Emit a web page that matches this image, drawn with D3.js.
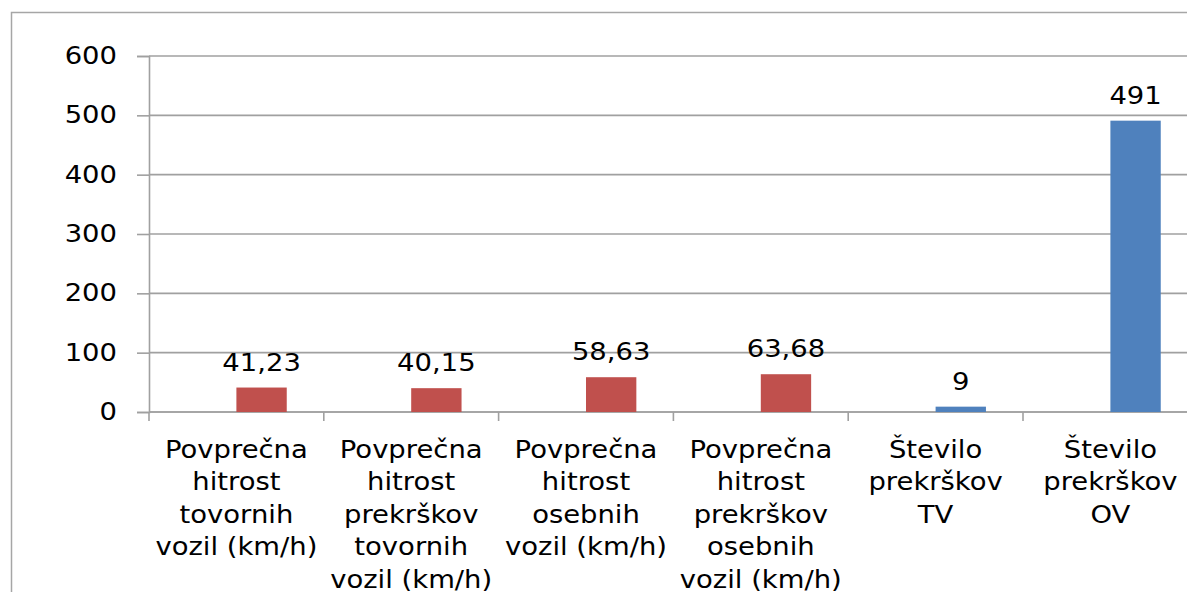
<!DOCTYPE html>
<html lang="sl">
<head>
    <meta charset="UTF-8">
    <title>Hitrosti in prekrški</title>
    <style>
        body {
            margin: 0;
            padding: 0;
            background: #fff;
            overflow: hidden;
        }
        svg text {
            font-family: 'DejaVu Sans', Verdana, sans-serif;
            fill: #000;
        }
    </style>
</head>
<body>
    <div id="chart"></div>

    <script src="https://d3js.org/d3.v7.min.js"></script>
    <script>
        const categories = [
            ["Povprečna", "hitrost", "tovornih", "vozil (km/h)"],
            ["Povprečna", "hitrost", "prekrškov", "tovornih", "vozil (km/h)"],
            ["Povprečna", "hitrost", "osebnih", "vozil (km/h)"],
            ["Povprečna", "hitrost", "prekrškov", "osebnih", "vozil (km/h)"],
            ["Število", "prekrškov", "TV"],
            ["Število", "prekrškov", "OV"]
        ];
        const values = [41.23, 40.15, 58.63, 63.68, 9, 491];
        const valueLabels = ["41,23", "40,15", "58,63", "63,68", "9", "491"];
        const series = ["hitrost", "hitrost", "hitrost", "hitrost", "prekrski", "prekrski"];
        const yTicks = [0, 100, 200, 300, 400, 500, 600];

        const width = 1187;
        const height = 592;
        const margin = { top: 56, left: 149, bottom: 180 };
        const bandWidth = 174.8;
        const plotW = bandWidth * categories.length;
        const plotH = height - margin.top - margin.bottom;
        const sx = 1.12; // fonts in the picture are a bit wider than DejaVu

        const svg = d3.select("#chart")
            .append("svg")
            .attr("width", width)
            .attr("height", height);

        // outer frame of the chart
        svg.append("rect")
            .attr("x", 11.5)
            .attr("y", 12.5)
            .attr("width", width + 20)
            .attr("height", height + 20)
            .attr("fill", "none")
            .attr("stroke", "#a6a6a6")
            .attr("stroke-width", 1.5);

        const g = svg.append("g")
            .attr("transform", `translate(${margin.left},${margin.top})`);

        const x = d3.scaleBand()
            .domain(d3.range(categories.length))
            .range([0, plotW])
            .padding(0);

        const y = d3.scaleLinear()
            .domain([0, 600])
            .range([plotH, 0]);

        const color = d3.scaleOrdinal()
            .domain(["hitrost", "prekrski"])
            .range(["#c0504d", "#4f81bd"]);

        // gridlines
        g.selectAll(".grid")
            .data(yTicks)
            .enter().append("line")
            .attr("x1", 0)
            .attr("x2", plotW)
            .attr("y1", d => y(d))
            .attr("y2", d => y(d))
            .attr("stroke", "#a0a0a0")
            .attr("stroke-width", 1.6);

        // y axis
        const yAxis = g.append("g")
            .call(d3.axisLeft(y).tickValues(yTicks).tickSize(12).tickPadding(20));
        yAxis.select(".domain").attr("stroke", "#a0a0a0").attr("stroke-width", 1.6);
        yAxis.selectAll(".tick line").attr("stroke", "#a0a0a0").attr("stroke-width", 1.6);
        yAxis.selectAll(".tick text")
            .style("font-size", "24.5px")
            .attr("x", -32 / sx)
            .attr("dy", "0.3em")
            .attr("transform", `scale(${sx},1)`);

        // x axis with ticks at category borders
        const xAxis = g.append("g")
            .attr("transform", `translate(0,${plotH})`);
        xAxis.append("line")
            .attr("x1", 0)
            .attr("x2", plotW)
            .attr("stroke", "#a0a0a0")
            .attr("stroke-width", 1.6);
        xAxis.selectAll(".xtick")
            .data(d3.range(categories.length + 1))
            .enter().append("line")
            .attr("x1", d => d * x.bandwidth())
            .attr("x2", d => d * x.bandwidth())
            .attr("y1", 0)
            .attr("y2", 9)
            .attr("stroke", "#a0a0a0")
            .attr("stroke-width", 1.6);

        xAxis.selectAll(".xlabel")
            .data(categories)
            .enter().append("text")
            .attr("transform", (d, i) => `translate(${x(i) + x.bandwidth() / 2},46) scale(${sx},1)`)
            .attr("text-anchor", "middle")
            .style("font-size", "24.5px")
            .selectAll("tspan")
            .data(d => d)
            .enter().append("tspan")
            .attr("x", 0)
            .attr("y", (d, i) => i * 32.5)
            .text(d => d);

        // bars sit in the right half of each category
        const barW = x.bandwidth() * 0.288;
        g.selectAll(".bar")
            .data(values)
            .enter().append("rect")
            .attr("x", (d, i) => x(i) + x.bandwidth() / 2)
            .attr("y", d => y(d))
            .attr("width", barW)
            .attr("height", d => plotH - y(d))
            .attr("fill", (d, i) => color(series[i]));

        g.selectAll(".value")
            .data(values)
            .enter().append("text")
            .attr("transform", (d, i) => `translate(${x(i) + x.bandwidth() / 2 + barW / 2},${y(d) - 17}) scale(${sx},1)`)
            .attr("text-anchor", "middle")
            .style("font-size", "24.5px")
            .text((d, i) => valueLabels[i]);
    </script>
</body>
</html>
